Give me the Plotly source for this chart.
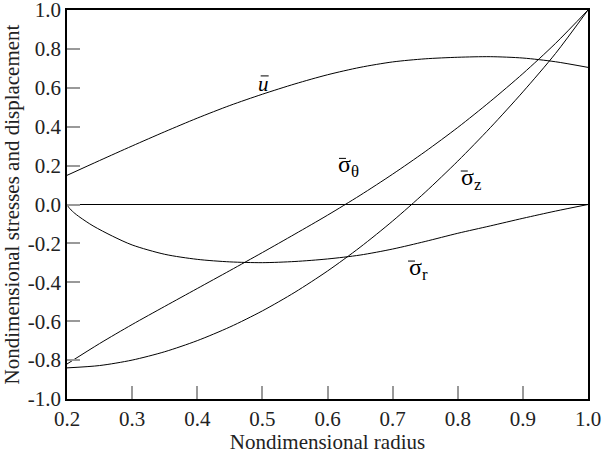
import plotly.graph_objects as go

# ---- data ----
r = [0.2, 0.25, 0.3, 0.35, 0.4, 0.45, 0.5, 0.55, 0.6, 0.65, 0.7, 0.75, 0.8, 0.85, 0.9, 0.95, 1.0]
u_bar = [0.15, 0.226, 0.301, 0.374, 0.444, 0.509, 0.567, 0.62, 0.667, 0.705, 0.733, 0.749, 0.757, 0.76, 0.753, 0.734, 0.705]
sigma_theta = [-0.82, -0.715, -0.617, -0.524, -0.432, -0.34, -0.247, -0.152, -0.055, 0.047, 0.156, 0.272, 0.396, 0.53, 0.673, 0.828, 1.0]
sigma_z = [-0.84, -0.828, -0.80, -0.757, -0.70, -0.63, -0.547, -0.451, -0.342, -0.22, -0.085, 0.063, 0.223, 0.395, 0.579, 0.776, 1.0]

r_sr = [0.2, 0.203, 0.21, 0.22, 0.24, 0.27, 0.3, 0.35, 0.4, 0.45, 0.5, 0.55, 0.6, 0.65, 0.7, 0.75, 0.8, 0.85, 0.9, 0.95, 1.0]
sigma_r = [0.0, -0.016, -0.04, -0.066, -0.11, -0.163, -0.208, -0.256, -0.282, -0.295, -0.299, -0.293, -0.28, -0.26, -0.229, -0.19, -0.148, -0.11, -0.071, -0.034, 0.0]

x_ticks = [0.2, 0.3, 0.4, 0.5, 0.6, 0.7, 0.8, 0.9, 1.0]
x_ticktext = ["0.2", "0.3", "0.4", "0.5", "0.6", "0.7", "0.8", "0.9", "1.0"]
y_ticks = [-1.0, -0.8, -0.6, -0.4, -0.2, 0.0, 0.2, 0.4, 0.6, 0.8, 1.0]
y_ticktext = ["-1.0", "-0.8", "-0.6", "-0.4", "-0.2", "0.0", "0.2", "0.4", "0.6", "0.8", "1.0"]

labels = ["<i>u</i>", "σ<sub>θ</sub>", "σ<sub>z</sub>", "σ<sub>r</sub>"]
label_x = [0.502, 0.633, 0.82, 0.739]
label_y = [0.62, 0.196, 0.131, -0.332]

FONT = "Liberation Serif, Times New Roman, serif"
line_style = dict(color="black", width=1, shape="spline", smoothing=0.8)

fig = go.Figure()
fig.add_trace(go.Scatter(x=r, y=u_bar, mode="lines", line=line_style, showlegend=False))
fig.add_trace(go.Scatter(x=r, y=sigma_theta, mode="lines", line=line_style, showlegend=False))
fig.add_trace(go.Scatter(x=r, y=sigma_z, mode="lines", line=line_style, showlegend=False))
fig.add_trace(go.Scatter(x=r_sr, y=sigma_r, mode="lines", line=line_style, showlegend=False))

for t, lx, ly in zip(labels, label_x, label_y):
    is_sigma = t.startswith("σ")
    fig.add_annotation(x=lx, y=ly, xref="x", yref="y", text=t, showarrow=False,
                       xanchor="center", yanchor="middle",
                       font=dict(family=FONT, size=(24 if is_sigma else 21), color="black"))
    # overbar drawn as a short pixel-sized line anchored at the label
    bx0, bx1 = (-10, -3) if is_sigma else (-3, 5)
    fig.add_shape(type="line", xref="x", yref="y", xsizemode="pixel", ysizemode="pixel",
                  xanchor=lx, yanchor=ly, x0=bx0, x1=bx1, y0=8, y1=8,
                  line=dict(color="black", width=1))

fig.update_layout(
    width=602, height=454,
    margin=dict(l=67, r=14, t=10, b=55, autoexpand=False),
    paper_bgcolor="white", plot_bgcolor="white",
    font=dict(family=FONT, size=21, color="#222"),
    xaxis=dict(
        range=[0.2, 1.0], tickvals=x_ticks, ticktext=x_ticktext,
        showgrid=False, zeroline=False, automargin=False, ticklabeloverflow="allow",
        showline=True, linecolor="black", linewidth=1.5, mirror=True,
        ticks="inside", ticklen=13, tickwidth=1.5, tickcolor="#999",
        title=dict(text="Nondimensional radius", font=dict(size=21), standoff=2),
        tickfont=dict(size=21),
    ),
    yaxis=dict(
        range=[-1.0, 1.0], tickvals=y_ticks, ticktext=y_ticktext,
        showgrid=False, zeroline=True, zerolinecolor="black", zerolinewidth=1,
        automargin=False, ticklabeloverflow="allow",
        showline=True, linecolor="black", linewidth=1.5, mirror=True,
        ticks="inside", ticklen=13, tickwidth=1.5, tickcolor="#999",
        title=dict(text="Nondimensional stresses and displacement", font=dict(size=21), standoff=8),
        tickfont=dict(size=21),
    ),
)

fig.write_html("out.html", config={"displayModeBar": False},
               post_script="document.body.style.margin='0px';")
